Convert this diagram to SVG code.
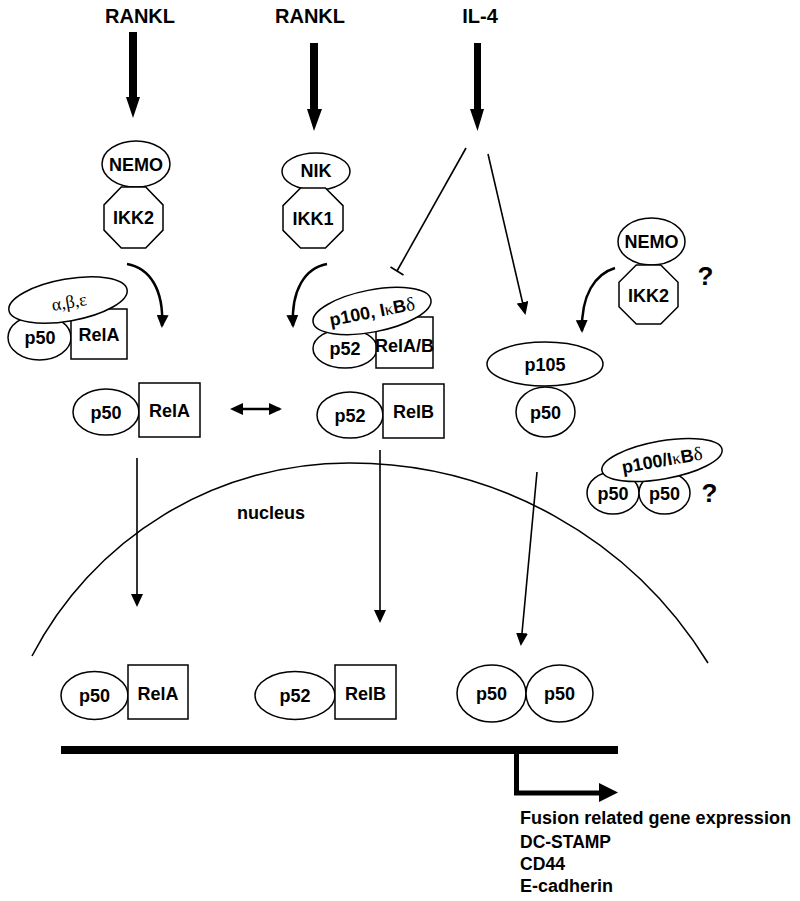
<svg xmlns="http://www.w3.org/2000/svg" width="800" height="901" viewBox="0 0 800 901">
<style>
.s{fill:#fff;stroke:#000;stroke-width:1.5}
.t{font-family:"Liberation Sans",Arial,sans-serif;font-weight:bold;font-size:18px;text-anchor:middle;fill:#000}
.big{font-size:20px}
.q{font-size:26px}
.g{font-size:18px;text-anchor:start}
.gr{font-family:"Liberation Serif","DejaVu Serif",serif;font-weight:normal}
.ln{fill:none;stroke:#000;stroke-width:1.6}
.cv{fill:none;stroke:#000;stroke-width:2.5}
</style>
<defs>
<marker id="ah" markerUnits="userSpaceOnUse" markerWidth="13" markerHeight="12" refX="11" refY="6" orient="auto">
<path d="M0,0 L13,6 L0,12 z" fill="#000"/>
</marker>
<marker id="ahs" markerUnits="userSpaceOnUse" markerWidth="13" markerHeight="12" refX="2" refY="6" orient="auto-start-reverse">
<path d="M0,0 L13,6 L0,12 z" fill="#000"/>
</marker>
</defs>
<rect width="800" height="901" fill="#fff"/>

<!-- signal labels -->
<g id="rankl1"><text class="t big" x="140" y="23">RANKL</text></g>
<g id="rankl2"><text class="t big" x="310" y="23">RANKL</text></g>
<g id="il4"><text class="t big" x="480" y="23">IL-4</text></g>

<!-- nucleus membrane -->
<g id="nucleus">
<path class="ln" d="M32,656 A357,357 0 0 1 350,463 A420,420 0 0 1 708,663"/>
<text class="t" x="271" y="519">nucleus</text>
</g>

<!-- connectors -->
<g id="connectors">
<path d="M129,32 H137 V97 H140 L133,118 L126,97 H129 z" fill="#000"/>
<path d="M310,43 H318 V109 H322 L314,131 L307,109 H310 z" fill="#000"/>
<path d="M474,43 H481 V109 H484 L477.5,131 L470,109 H474 z" fill="#000"/>
<line class="ln" x1="466" y1="148" x2="397" y2="271"/>
<line class="ln" x1="390.5" y1="267" x2="403.5" y2="275"/>
<line class="ln" x1="488" y1="154" x2="525" y2="313" marker-end="url(#ah)"/>
<path class="cv" d="M127,264 C150,268 164,290 162,326" marker-end="url(#ah)"/>
<path class="cv" d="M327,264 C305,268 291,290 293,326" marker-end="url(#ah)"/>
<path class="cv" d="M615,268 C595,274 581,295 582,331" marker-end="url(#ah)"/>
<line class="cv" x1="241" y1="409" x2="280" y2="409" marker-start="url(#ahs)" marker-end="url(#ah)"/>
<line class="ln" x1="137" y1="458" x2="137" y2="605" marker-end="url(#ah)"/>
<line class="ln" x1="380" y1="450" x2="380" y2="621" marker-end="url(#ah)"/>
<line class="ln" x1="537" y1="472" x2="521" y2="644" marker-end="url(#ah)"/>
</g>

<!-- upstream kinases -->
<g id="nemo1"><ellipse class="s" cx="136" cy="164" rx="34" ry="23"/><text class="t" x="136" y="170.5">NEMO</text></g>
<g id="ikk2a"><polygon class="s" points="121.3,187 145.7,187 163,204.9 163,230.1 145.7,248 121.3,248 104,230.1 104,204.9"/><text class="t" x="133.5" y="224">IKK2</text></g>
<g id="nik"><ellipse class="s" cx="316" cy="171.5" rx="34" ry="18.5"/><text class="t" x="316" y="176.5">NIK</text></g>
<g id="ikk1"><polygon class="s" points="300.6,188 325.4,188 343,205.6 343,230.4 325.4,248 300.6,248 283,230.4 283,205.6"/><text class="t" x="313" y="225">IKK1</text></g>
<g id="nemo2"><ellipse class="s" cx="651.5" cy="241.5" rx="33.5" ry="23.5"/><text class="t" x="651.5" y="248">NEMO</text></g>
<g id="ikk2b"><polygon class="s" points="636.3,265 660.7,265 678,282.3 678,306.7 660.7,324 636.3,324 619,306.7 619,282.3"/><text class="t" x="648.5" y="301.5">IKK2</text><text class="t q" x="705.5" y="285">?</text></g>

<!-- cytoplasmic inhibited complexes -->
<g id="ikb-p50-rela">
<ellipse class="s" cx="39.5" cy="337.5" rx="31.5" ry="22.5"/>
<rect class="s" x="71" y="309" width="56" height="50"/>
<text class="t" x="40" y="344">p50</text>
<text class="t" x="99" y="341">RelA</text>
<ellipse class="s" cx="68" cy="300" rx="60" ry="21" transform="rotate(-10 68 300)"/>
<text class="t gr" x="69" y="308" font-size="21" transform="rotate(-10 69 302)">α,β,ε</text>
</g>
<g id="p100-p52-relab">
<ellipse class="s" cx="345" cy="348.5" rx="32" ry="19.5"/>
<rect class="s" x="376" y="317" width="57" height="51"/>
<text class="t" x="345" y="355">p52</text>
<text class="t" x="404.5" y="352" font-size="17">RelA/B</text>
<ellipse class="s" cx="372" cy="311" rx="60" ry="21" transform="rotate(-11 372 311)"/>
<text class="t" x="372" y="318" transform="rotate(-11 372 311)">p100, I<tspan class="gr" font-size="17">κ</tspan>B<tspan class="gr" font-size="19">δ</tspan></text>
</g>
<g id="p105-p50">
<ellipse class="s" cx="545" cy="364" rx="58" ry="22"/>
<text class="t" x="545" y="370.5">p105</text>
<ellipse class="s" cx="545.5" cy="412" rx="29.5" ry="25"/>
<text class="t" x="545.5" y="418.5">p50</text>
</g>
<g id="p100-p50-p50">
<ellipse class="s" cx="613" cy="493" rx="26" ry="21"/>
<ellipse class="s" cx="664.5" cy="493" rx="25.5" ry="21"/>
<text class="t" x="613" y="499.5">p50</text>
<text class="t" x="664.5" y="499.5">p50</text>
<ellipse class="s" cx="662" cy="460" rx="61" ry="19" transform="rotate(-10 662 460)"/>
<text class="t" x="662" y="466.5" transform="rotate(-10 662 460)">p100/I<tspan class="gr" font-size="17">κ</tspan>B<tspan class="gr" font-size="19">δ</tspan></text>
<text class="t q" x="709.5" y="502">?</text>
</g>

<!-- free dimers in cytoplasm -->
<g id="p50-rela-cyto">
<ellipse class="s" cx="106" cy="412" rx="33" ry="23"/>
<rect class="s" x="139" y="383" width="61" height="54"/>
<text class="t" x="106" y="418.5">p50</text>
<text class="t" x="169.5" y="416.5">RelA</text>
</g>
<g id="p52-relb-cyto">
<ellipse class="s" cx="350" cy="415" rx="33" ry="23"/>
<rect class="s" x="383" y="384" width="61" height="54"/>
<text class="t" x="350" y="421.5">p52</text>
<text class="t" x="413.5" y="417.5">RelB</text>
</g>

<!-- nuclear dimers -->
<g id="p50-rela-nuc">
<ellipse class="s" cx="94.5" cy="695.5" rx="33.5" ry="24"/>
<rect class="s" x="128" y="665" width="60" height="54"/>
<text class="t" x="94.5" y="702">p50</text>
<text class="t" x="158" y="699.5">RelA</text>
</g>
<g id="p52-relb-nuc">
<ellipse class="s" cx="295" cy="695.5" rx="40" ry="24"/>
<rect class="s" x="335" y="665" width="61" height="54"/>
<text class="t" x="295" y="702">p52</text>
<text class="t" x="365.5" y="699.5">RelB</text>
</g>
<g id="p50-p50-nuc">
<ellipse class="s" cx="491.5" cy="693.5" rx="34.5" ry="28.5"/>
<ellipse class="s" cx="559.5" cy="693.5" rx="33.5" ry="28.5"/>
<text class="t" x="491.5" y="700">p50</text>
<text class="t" x="559.5" y="700">p50</text>
</g>

<!-- DNA and gene expression -->
<g id="dna">
<rect x="61" y="746" width="557" height="8" fill="#000"/>
<path d="M516.5,754 V793 H601" fill="none" stroke="#000" stroke-width="5"/>
<path d="M599,783 L618,792.5 L599,802 z" fill="#000"/>
</g>
<g id="genes">
<text class="t g" x="520" y="824" textLength="271" lengthAdjust="spacingAndGlyphs">Fusion related gene expression</text>
<text class="t g" x="520" y="848" textLength="91" lengthAdjust="spacingAndGlyphs">DC-STAMP</text>
<text class="t g" x="520" y="870" textLength="45" lengthAdjust="spacingAndGlyphs">CD44</text>
<text class="t g" x="520" y="892" textLength="93" lengthAdjust="spacingAndGlyphs">E-cadherin</text>
</g>
</svg>
